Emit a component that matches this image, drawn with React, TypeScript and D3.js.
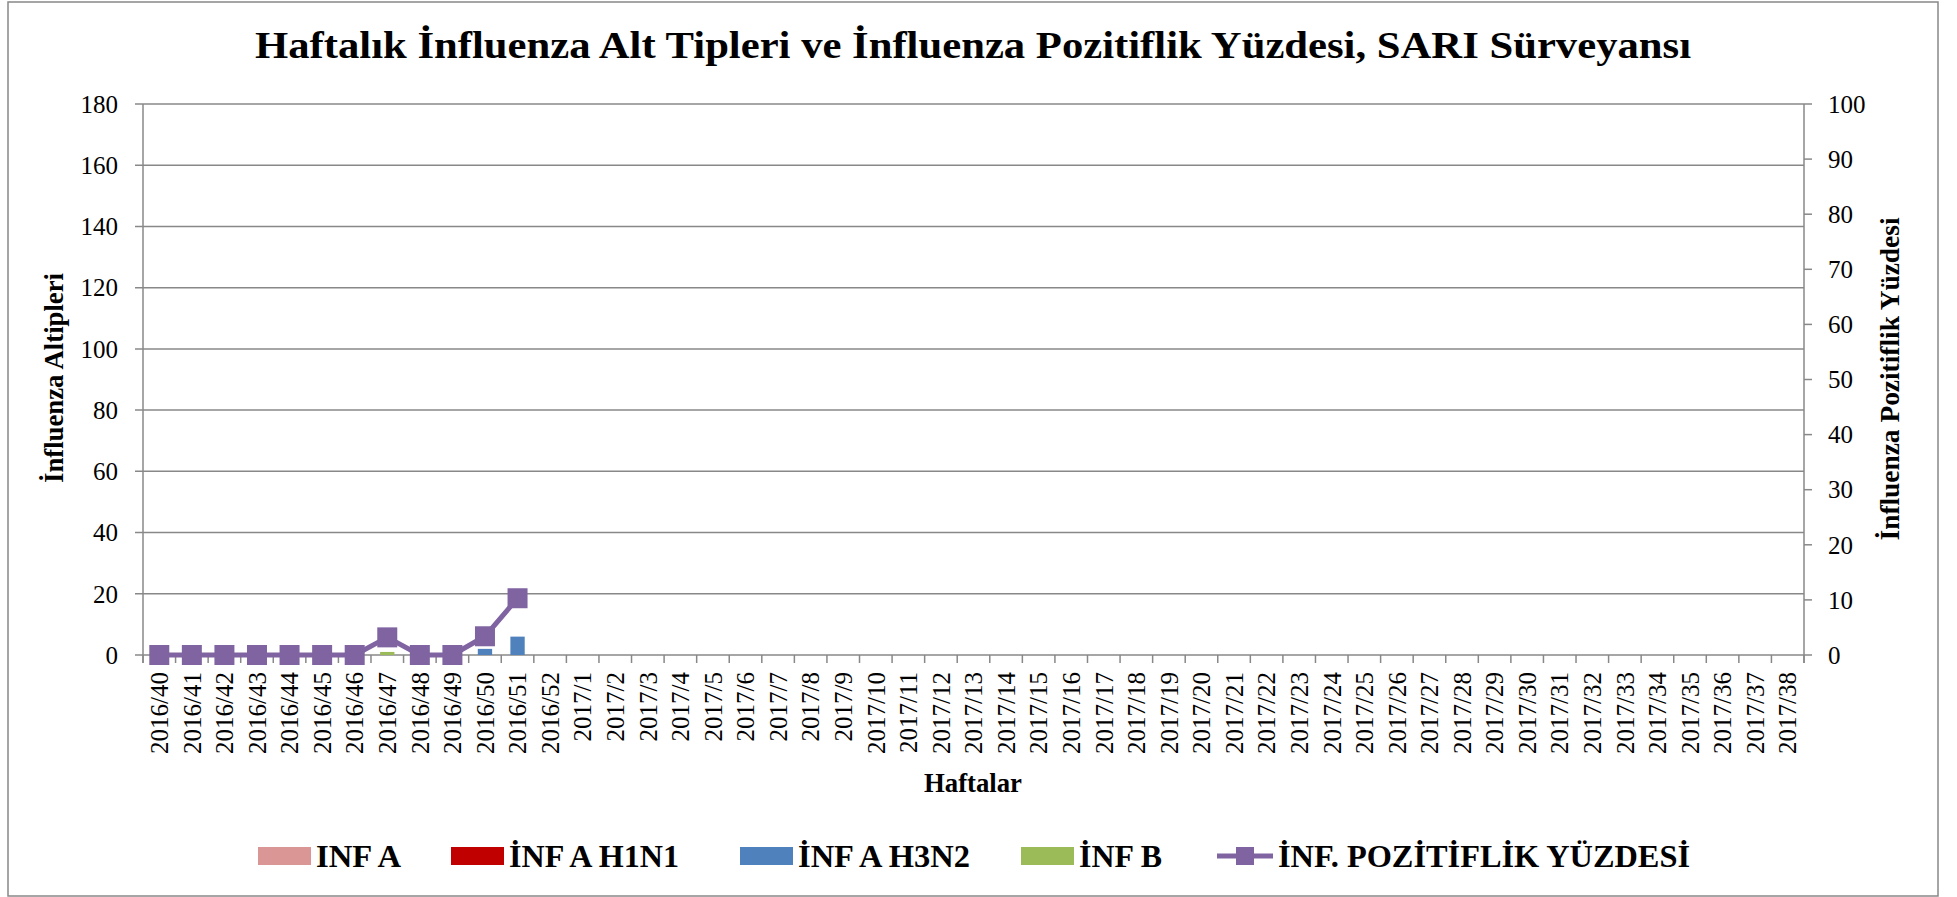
import React from "react";
import * as d3 from "d3";

const weeks = [
  "2016/40","2016/41","2016/42","2016/43","2016/44","2016/45","2016/46","2016/47","2016/48","2016/49","2016/50","2016/51","2016/52",
  "2017/1","2017/2","2017/3","2017/4","2017/5","2017/6","2017/7","2017/8","2017/9","2017/10","2017/11","2017/12","2017/13",
  "2017/14","2017/15","2017/16","2017/17","2017/18","2017/19","2017/20","2017/21","2017/22","2017/23","2017/24","2017/25",
  "2017/26","2017/27","2017/28","2017/29","2017/30","2017/31","2017/32","2017/33","2017/34","2017/35","2017/36","2017/37","2017/38",
];

const infA: (number | null)[] = [0,0,0,0,0,0,0,0,0,0,0,0];
const infAH1N1: (number | null)[] = [0,0,0,0,0,0,0,0,0,0,0,0];
const infAH3N2: (number | null)[] = [0,0,0,0,0,0,0,0,0,0,2,6];
const infB: (number | null)[] = [0,0,0,0,0,0,0,1,0,0,0,0];
const positivity: (number | null)[] = [0,0,0,0,0,0,0,3.2,0,0,3.4,10.3];

const leftTicks = [0,20,40,60,80,100,120,140,160,180];
const rightTicks = [0,10,20,30,40,50,60,70,80,90,100];

const seriesNames = ["INF A", "İNF A H1N1", "İNF A H3N2", "İNF B"];
const seriesColors = ["#D99694", "#C00000", "#4F81BD", "#9BBB59"];
const lineName = "İNF. POZİTİFLİK YÜZDESİ";
const lineColor = "#8064A2";

const W = 1957, H = 897;
const M = { left: 143, right: 1804, top: 104, bottom: 655 };
const GRAY = "#888888";
const FONT = "'Liberation Serif', 'Times New Roman', serif";

// legend layout (x start of each item and its text length)
const legendX = [258, 451, 740, 1021];
const legendTextLen = [85, 170, 172, 83];
const legendLineX = 1217;
const legendLineTextLen = 412;

export default function App() {
  const x = d3.scaleBand<string>().domain(weeks).range([M.left, M.right]).padding(0);
  const yL = d3.scaleLinear().domain([0, 180]).range([M.bottom, M.top]);
  const yR = d3.scaleLinear().domain([0, 100]).range([M.bottom, M.top]);
  const bw = x.bandwidth();
  const barW = bw * 0.44;

  const series = [infA, infAH1N1, infAH3N2, infB];
  const bars: React.ReactNode[] = [];
  weeks.forEach((w, i) => {
    let acc = 0;
    series.forEach((s, si) => {
      const v = s[i];
      if (v == null || v <= 0) return;
      const y0 = yL(acc);
      const y1 = yL(acc + v);
      acc += v;
      bars.push(
        <rect key={`b${i}-${si}`} x={(x(w) as number) + bw / 2 - barW / 2} y={y1} width={barW} height={y0 - y1} fill={seriesColors[si]} />
      );
    });
  });

  const pts = weeks.map((w, i) => ({ w, v: positivity[i] ?? null }));
  const line = d3
    .line<{ w: string; v: number | null }>()
    .defined((d) => d.v != null)
    .x((d) => (x(d.w) as number) + bw / 2)
    .y((d) => yR(d.v as number));

  const ms = 20;

  return (
    <svg width={W} height={H} style={{ position: "absolute", left: 0, top: 0, background: "#fff" }} fontFamily={FONT}>
      <rect x={0} y={0} width={W} height={H} fill="#fff" />
      <rect x={8} y={2} width={1930} height={894} fill="none" stroke={GRAY} strokeWidth={1.5} />

      <text x={973} y={58} textAnchor="middle" fontSize={38} fontWeight="bold" textLength={1436} lengthAdjust="spacingAndGlyphs">
        Haftalık İnfluenza Alt Tipleri ve İnfluenza Pozitiflik Yüzdesi, SARI Sürveyansı
      </text>

      {/* gridlines */}
      {leftTicks.map((t) => (
        <line key={`g${t}`} x1={M.left - 8} x2={M.right} y1={yL(t)} y2={yL(t)} stroke={GRAY} strokeWidth={1.5} />
      ))}

      {bars}

      {/* left axis */}
      <line x1={M.left} x2={M.left} y1={M.top} y2={M.bottom + 8} stroke={GRAY} strokeWidth={1.5} />
      {leftTicks.map((t) => (
        <text key={`lt${t}`} x={118} y={yL(t)} dy="0.35em" textAnchor="end" fontSize={25}>
          {t}
        </text>
      ))}

      {/* right axis */}
      <line x1={M.right} x2={M.right} y1={M.top} y2={M.bottom + 8} stroke={GRAY} strokeWidth={1.5} />
      {rightTicks.map((t) => (
        <g key={`rt${t}`}>
          <line x1={M.right} x2={M.right + 8} y1={yR(t)} y2={yR(t)} stroke={GRAY} strokeWidth={1.5} />
          <text x={1828} y={yR(t)} dy="0.35em" textAnchor="start" fontSize={25}>
            {t}
          </text>
        </g>
      ))}

      {/* x axis ticks */}
      {weeks.map((w) => (
        <line key={`xt${w}`} x1={x(w) as number} x2={x(w) as number} y1={M.bottom} y2={M.bottom + 8} stroke={GRAY} strokeWidth={1.5} />
      ))}
      <line x1={M.right} x2={M.right} y1={M.bottom} y2={M.bottom + 8} stroke={GRAY} strokeWidth={1.5} />
      {weeks.map((w) => {
        const cx = (x(w) as number) + bw / 2;
        return (
          <text key={`xl${w}`} transform={`translate(${cx},672) rotate(-90)`} dy="0.35em" textAnchor="end" fontSize={25}>
            {w}
          </text>
        );
      })}

      {/* line series */}
      <path d={line(pts) || ""} fill="none" stroke={lineColor} strokeWidth={5} strokeLinejoin="round" />
      {pts.filter((p) => p.v != null).map((p) => (
        <rect key={`m${p.w}`} x={(x(p.w) as number) + bw / 2 - ms / 2} y={yR(p.v as number) - ms / 2} width={ms} height={ms} fill={lineColor} />
      ))}

      {/* axis titles */}
      <text transform="translate(63,378) rotate(-90)" textAnchor="middle" fontSize={26.5} fontWeight="bold" textLength={210} lengthAdjust="spacingAndGlyphs">
        İnfluenza  Altipleri
      </text>
      <text transform="translate(1899,379) rotate(-90)" textAnchor="middle" fontSize={27} fontWeight="bold" textLength={323} lengthAdjust="spacingAndGlyphs">
        İnfluenza  Pozitiflik  Yüzdesi
      </text>
      <text x={973} y={792} textAnchor="middle" fontSize={27} fontWeight="bold" textLength={98} lengthAdjust="spacingAndGlyphs">
        Haftalar
      </text>

      {/* legend */}
      {seriesNames.map((n, i) => (
        <g key={`lg${i}`}>
          <rect x={legendX[i]} y={847} width={53} height={18} fill={seriesColors[i]} />
          <text x={legendX[i] + 58} y={867} fontSize={31} fontWeight="bold" textLength={legendTextLen[i]} lengthAdjust="spacingAndGlyphs">
            {n}
          </text>
        </g>
      ))}
      <g>
        <line x1={legendLineX} x2={legendLineX + 56} y1={856} y2={856} stroke={lineColor} strokeWidth={5} />
        <rect x={legendLineX + 28 - 9} y={856 - 9} width={18} height={18} fill={lineColor} />
        <text x={legendLineX + 61} y={867} fontSize={31} fontWeight="bold" textLength={legendLineTextLen} lengthAdjust="spacingAndGlyphs">
          {lineName}
        </text>
      </g>
    </svg>
  );
}
